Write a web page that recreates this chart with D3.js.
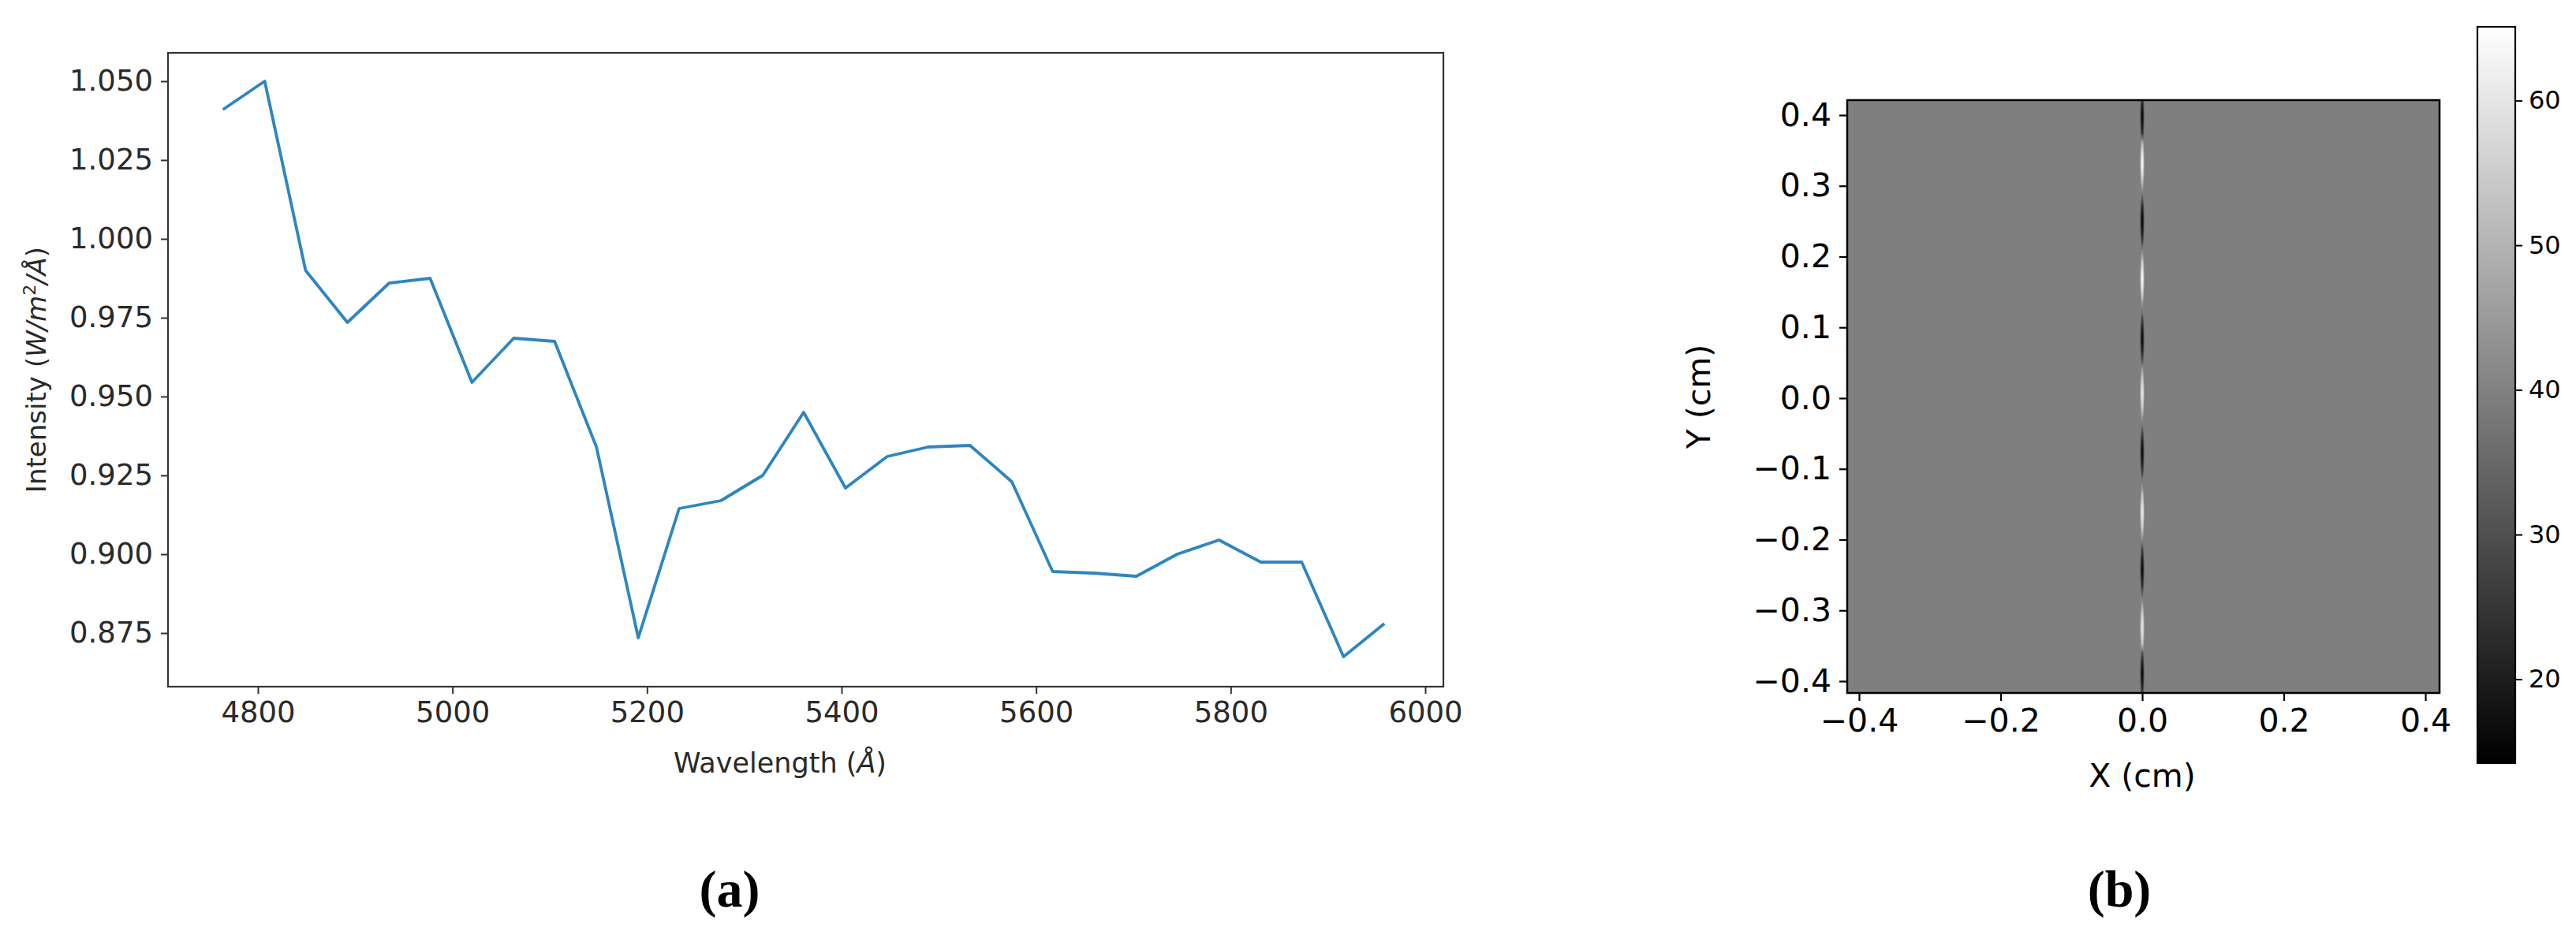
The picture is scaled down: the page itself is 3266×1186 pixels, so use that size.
<!DOCTYPE html>
<html><head><meta charset="utf-8">
<script src="https://cdn.jsdelivr.net/npm/d3@7"></script>
<style>body{margin:0;background:#fff}svg{display:block}</style>
</head><body>
<script>
// ---- data ----
const wavelengths = [4764,4807,4849,4892,4935,4977,5020,5063,5105,5148,5191,5233,5276,5319,5361,5404,5447,5489,5532,5575,5617,5660,5703,5745,5788,5831,5873,5916,5958];
const intensity = [1.041,1.050,0.990,0.9735,0.986,0.9875,0.9545,0.9685,0.9675,0.934,0.8735,0.9145,0.917,0.925,0.945,0.921,0.931,0.934,0.9345,0.923,0.8945,0.894,0.893,0.900,0.9045,0.8975,0.8975,0.8675,0.878];
const xTicksA = [4800,5000,5200,5400,5600,5800,6000];
const yTicksA = [0.875,0.900,0.925,0.950,0.975,1.000,1.025,1.050];
const stripeY = [0.398,0.332,0.25,0.169,0.084,0.007,-0.077,-0.162,-0.242,-0.324,-0.39];
const stripeVal = [14,65,14,65,15,62,15,63,15,62,15];
const backgroundVal = 39.6;
const ticksB = [-0.4,-0.3,-0.2,-0.1,0.0,0.1,0.2,0.3,0.4];
const xTicksB = [-0.4,-0.2,0.0,0.2,0.4];
const cbTicks = [20,30,40,50,60];

const W=3266,H=1186;
const svg=d3.select("body").append("svg").attr("width",W).attr("height",H);
const defs=svg.append("defs");

// ---- panel (a) ----
const A={l:213,r:1830,t:67,b:871};
const xa=d3.scaleLinear().domain([4800,6000]).range([327,1807]);
const ya=d3.scaleLinear().domain([0.875,1.050]).range([803,103]);
const ga=svg.append("g").attr("font-family","DejaVu Sans").attr("fill","#262626");
const axA=d3.axisBottom(xa).tickValues(xTicksA).tickSize(9).tickPadding(10).tickFormat(d3.format("d"));
const gxa=ga.append("g").attr("transform",`translate(0,${A.b})`).call(axA);
const ayA=d3.axisLeft(ya).tickValues(yTicksA).tickSize(9).tickPadding(10).tickFormat(d3.format(".3f"));
const gya=ga.append("g").attr("transform",`translate(${A.l},0)`).call(ayA);
[gxa,gya].forEach(g=>{g.select(".domain").remove();g.selectAll("line").attr("stroke","#333").attr("stroke-width",2);g.selectAll("text").attr("font-size",37).attr("fill","#2a2a2a").attr("font-family","DejaVu Sans");});
ga.append("rect").attr("x",A.l).attr("y",A.t).attr("width",A.r-A.l).attr("height",A.b-A.t).attr("fill","none").attr("stroke","#333").attr("stroke-width",2.2);
ga.append("path").datum(wavelengths.map((w,i)=>[w,intensity[i]]))
  .attr("d",d3.line().x(d=>xa(d[0])).y(d=>ya(d[1]))).attr("fill","none").attr("stroke","#2e86c1").attr("stroke-width",3.8).attr("stroke-linejoin","round");
const xl=ga.append("text").attr("x",989).attr("y",980).attr("text-anchor","middle").attr("font-size",35).attr("fill","#2a2a2a");
xl.append("tspan").text("Wavelength (");xl.append("tspan").attr("font-style","italic").text("Å");xl.append("tspan").text(")");
const yl=ga.append("text").attr("transform","translate(58,469) rotate(-90)").attr("text-anchor","middle").attr("font-size",34).attr("fill","#2a2a2a");
yl.append("tspan").text("Intensity (");yl.append("tspan").attr("font-style","italic").text("W/m");
yl.append("tspan").attr("font-size",22).attr("dy",-13).text("2");
yl.append("tspan").attr("font-style","italic").attr("dy",13).text("/Å");yl.append("tspan").text(")");
svg.append("text").attr("x",925).attr("y",1150).attr("text-anchor","middle").attr("font-family","Liberation Serif").attr("font-weight","bold").attr("font-size",66).text("(a)");

// ---- panel (b) ----
const B={l:2342,r:3093,t:127,b:879};
const xb=d3.scaleLinear().domain([-0.4,0.4]).range([2357,3075]);
const yb=d3.scaleLinear().domain([-0.4,0.4]).range([864,146]);
const cmap=d3.scaleLinear().domain([14.2,65.1]).range(["#000","#fff"]).clamp(true);
const gb=svg.append("g");
gb.append("rect").attr("x",B.l).attr("y",B.t).attr("width",B.r-B.l).attr("height",B.b-B.t).attr("fill",cmap(backgroundVal));
const clip=defs.append("clipPath").attr("id","cb");clip.append("rect").attr("x",B.l).attr("y",B.t).attr("width",B.r-B.l).attr("height",B.b-B.t);
stripeVal.forEach((v,i)=>{
  const gr=defs.append("radialGradient").attr("id","sg"+i);
  gr.append("stop").attr("offset","0%").attr("stop-color",cmap(v)).attr("stop-opacity",1);
  gr.append("stop").attr("offset","55%").attr("stop-color",cmap(v)).attr("stop-opacity",0.6);
  gr.append("stop").attr("offset","100%").attr("stop-color",cmap(v)).attr("stop-opacity",0);
});
gb.append("g").attr("clip-path","url(#cb)").selectAll("ellipse").data(stripeY).join("ellipse")
  .attr("cx",xb(0)).attr("cy",d=>yb(d)).attr("rx",3).attr("ry",38).attr("fill",(d,i)=>`url(#sg${i})`);
gb.append("rect").attr("x",B.l).attr("y",B.t).attr("width",B.r-B.l).attr("height",B.b-B.t).attr("fill","none").attr("stroke","#000").attr("stroke-width",2.5);
const gxb=gb.append("g").attr("transform",`translate(0,${B.b})`).call(d3.axisBottom(xb).tickValues(xTicksB).tickSize(10).tickPadding(10).tickFormat(d=>d3.format(".1f")(d).replace("-","−")));
const gyb=gb.append("g").attr("transform",`translate(${B.l},0)`).call(d3.axisLeft(yb).tickValues(ticksB).tickSize(10).tickPadding(10).tickFormat(d=>d3.format(".1f")(d).replace("-","−")));
[gxb,gyb].forEach(g=>{g.select(".domain").remove();g.selectAll("line").attr("stroke","#000").attr("stroke-width",2.2);g.selectAll("text").attr("font-size",41).attr("fill","#000").attr("font-family","DejaVu Sans");});
gb.append("text").attr("x",2716).attr("y",998).attr("text-anchor","middle").attr("font-family","DejaVu Sans").attr("font-size",41).text("X (cm)");
gb.append("text").attr("transform","translate(2168,503) rotate(-90)").attr("text-anchor","middle").attr("font-family","DejaVu Sans").attr("font-size",41).text("Y (cm)");
// colorbar
const cb={l:3141,r:3189,t:34,b:968};
const yc=d3.scaleLinear().domain([14.2,65.1]).range([cb.b,cb.t]);
const lg=defs.append("linearGradient").attr("id","cbg").attr("x1",0).attr("y1",1).attr("x2",0).attr("y2",0);
lg.append("stop").attr("offset","0%").attr("stop-color",cmap(14.2));
lg.append("stop").attr("offset","100%").attr("stop-color",cmap(65.1));
gb.append("rect").attr("x",cb.l).attr("y",cb.t).attr("width",cb.r-cb.l).attr("height",cb.b-cb.t).attr("fill","url(#cbg)").attr("stroke","#000").attr("stroke-width",2.2);
const gc=gb.append("g").attr("transform",`translate(${cb.r},0)`).call(d3.axisRight(yc).tickValues(cbTicks).tickSize(9).tickPadding(8));
gc.select(".domain").remove();gc.selectAll("line").attr("stroke","#000").attr("stroke-width",2);
gc.selectAll("text").attr("font-size",32).attr("fill","#000").attr("font-family","DejaVu Sans");
svg.append("text").attr("x",2687).attr("y",1150).attr("text-anchor","middle").attr("font-family","Liberation Serif").attr("font-weight","bold").attr("font-size",66).text("(b)");
</script>
</body></html>
